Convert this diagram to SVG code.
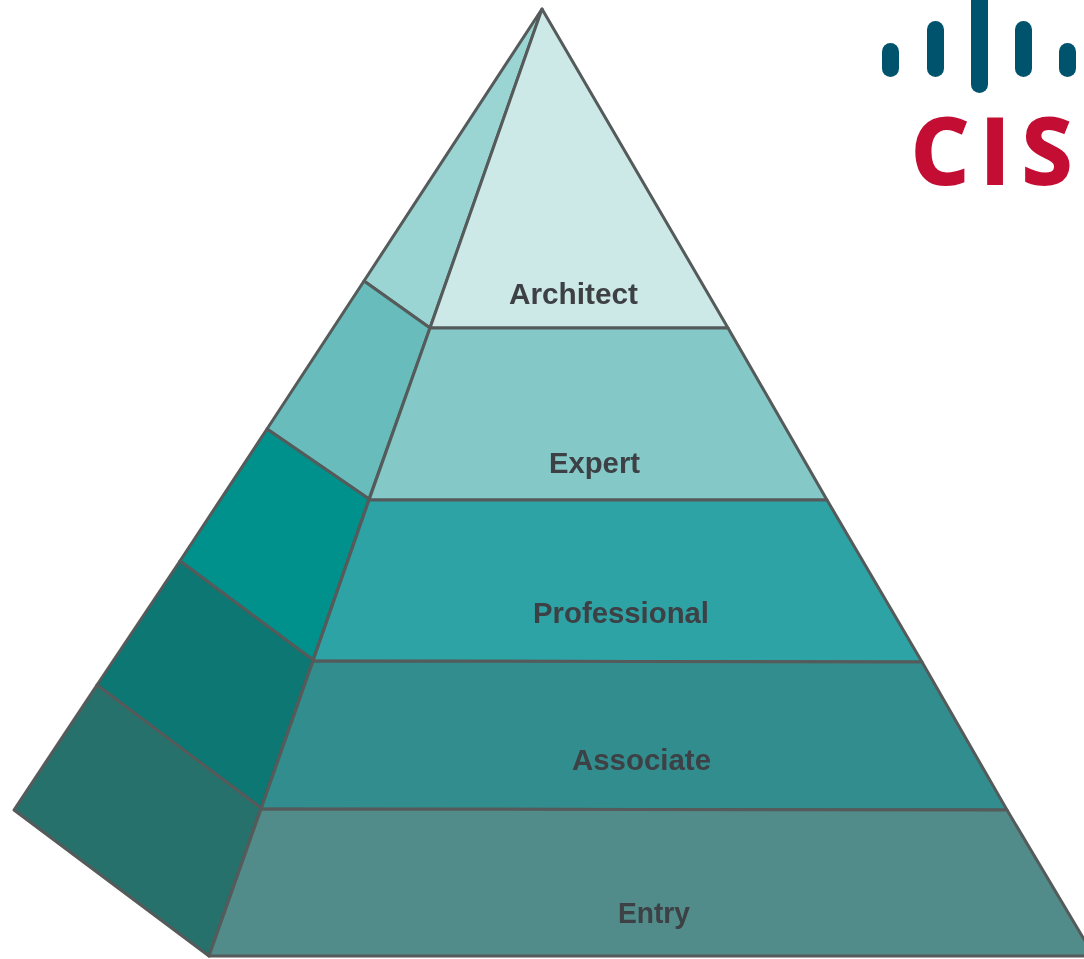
<svg xmlns="http://www.w3.org/2000/svg" width="1084" height="959" viewBox="0 0 1084 959">
<style>
.f{stroke:#555a5a;stroke-width:3;stroke-linejoin:round}
.l{font-family:"Liberation Sans",Arial,sans-serif;font-weight:700;font-size:30px;fill:#3d4044}
.b{fill:#00536c}
.c{font-family:"Open Sans","Liberation Sans",Arial,sans-serif;font-weight:700;font-size:91px;fill:#c30f33;stroke:#c30f33;stroke-width:2}
</style>
<defs><filter id="s" x="-5%" y="-5%" width="110%" height="110%"><feGaussianBlur stdDeviation="0.6"/></filter></defs>
<rect width="1084" height="959" fill="#fff"/>
<g id="pyramid" filter="url(#s)">
<g id="tier-architect">
<polygon class="f" fill="#9ad5d3" points="542,9 364,281 430,328"/>
<polygon class="f" fill="#cde9e7" points="542,9 430,328 728,328"/>
<text class="l" x="509" y="304" textLength="129" lengthAdjust="spacingAndGlyphs">Architect</text>
</g>
<g id="tier-expert">
<polygon class="f" fill="#68bcbc" points="364,281 267,429 369,499 430,328"/>
<polygon class="f" fill="#84c8c7" points="430,328 369,500 827,500 728,328"/>
<text class="l" x="549" y="473" textLength="91" lengthAdjust="spacingAndGlyphs">Expert</text>
</g>
<g id="tier-professional">
<polygon class="f" fill="#00918c" points="267,429 180,561 313,660 369,499"/>
<polygon class="f" fill="#2fa3a5" points="369,500 313,661 922,662 827,500"/>
<text class="l" x="533" y="623" textLength="176" lengthAdjust="spacingAndGlyphs">Professional</text>
</g>
<g id="tier-associate">
<polygon class="f" fill="#077873" points="180,561 97,685 261,808 313,660"/>
<polygon class="f" fill="#338e8e" points="313,661 261,809 1007,810 922,662"/>
<text class="l" x="572" y="770" textLength="139" lengthAdjust="spacingAndGlyphs">Associate</text>
</g>
<g id="tier-entry">
<polygon class="f" fill="#28716c" points="97,685 14,810 209,956 261,808"/>
<polygon class="f" fill="#518c8a" points="261,809 209,956 1094,956 1007,810"/>
<text class="l" x="618" y="923" textLength="72" lengthAdjust="spacingAndGlyphs">Entry</text>
</g>
</g>
<g id="logo" filter="url(#s)">
<rect class="b" x="882" y="43" width="17" height="34" rx="8.5"/>
<rect class="b" x="927" y="21" width="17" height="56" rx="8.5"/>
<rect class="b" x="971" y="-20" width="17" height="113" rx="8.5"/>
<rect class="b" x="1015" y="21" width="17" height="56" rx="8.5"/>
<rect class="b" x="1059" y="43" width="17" height="34" rx="8.5"/>
<text class="c" x="911 980 1022" y="184">CIS</text>
</g>
</svg>
